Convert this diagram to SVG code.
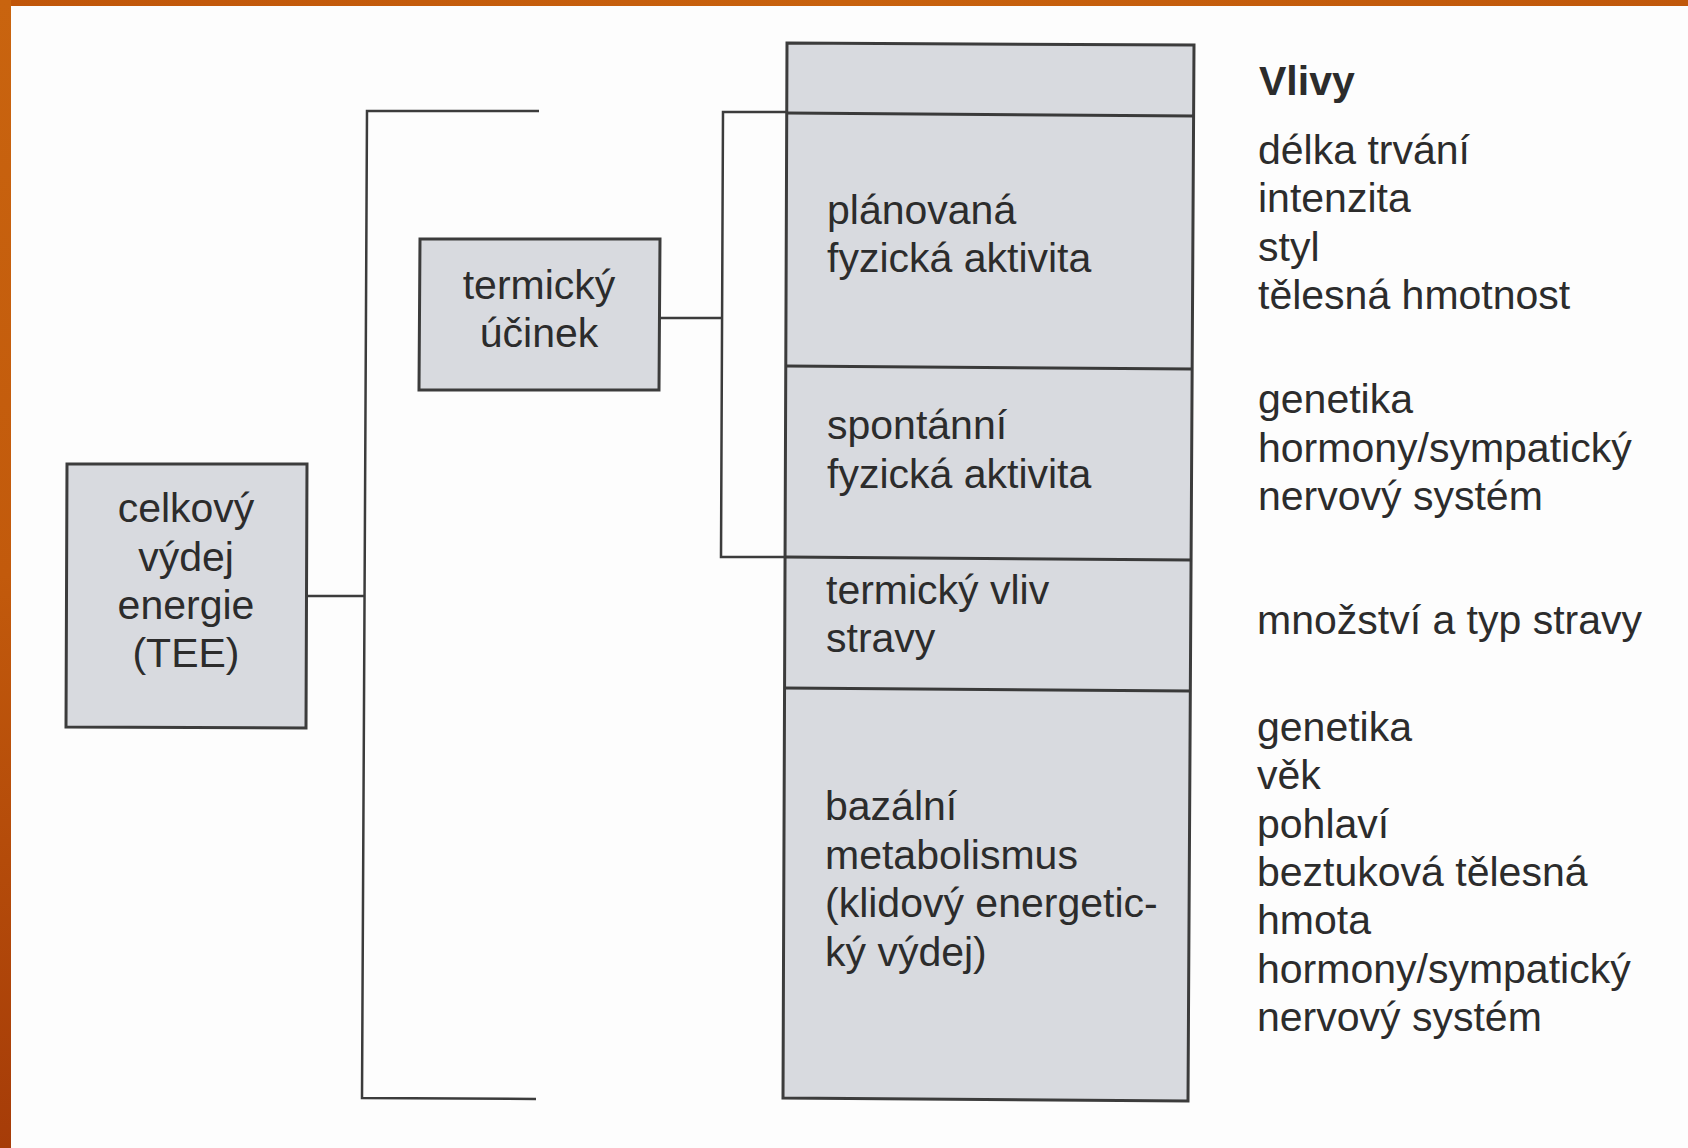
<svg xmlns="http://www.w3.org/2000/svg" width="1688" height="1148" viewBox="0 0 1688 1148">
<defs>
<linearGradient id="og" x1="0" y1="0" x2="0" y2="1">
<stop offset="0" stop-color="#c9640f"/>
<stop offset="0.5" stop-color="#c25a0c"/>
<stop offset="1" stop-color="#a63c08"/>
</linearGradient>
<linearGradient id="ot" x1="0" y1="0" x2="1" y2="0">
<stop offset="0" stop-color="#c0560a"/>
<stop offset="0.5" stop-color="#c8620e"/>
<stop offset="1" stop-color="#c0580b"/>
</linearGradient>
<style>
.box{fill:#d8dadf;stroke:#3c3c3c;stroke-width:3;stroke-linejoin:miter}
.ln{fill:none;stroke:#3c3c3c;stroke-width:2.5}
.dv{fill:none;stroke:#3a3a3a;stroke-width:3}
text{font-family:"Liberation Sans",Arial,sans-serif;font-size:41px;fill:#2c2c2c}
.c{text-anchor:middle}
.b{font-weight:bold}
</style>
</defs>
<rect x="0" y="0" width="1688" height="1148" fill="#fdfdfd"/>
<rect x="0" y="0" width="1688" height="6" fill="url(#ot)"/>
<rect x="0" y="0" width="11" height="1148" fill="url(#og)"/>

<g id="connectors">
<polyline class="ln" points="539,111 367,111 362,1098 536,1099"/>
<line class="ln" x1="307" y1="596" x2="365" y2="596"/>
<polyline class="ln" points="787,112 723,112 721,557 786,557"/>
<line class="ln" x1="659" y1="318" x2="723" y2="318"/>
</g>

<g id="node-tee">
<polygon class="box" points="67,464 307,464 306,728 66,727"/>
<text class="c" x="186" y="522">celkový</text>
<text class="c" x="186" y="571">výdej</text>
<text class="c" x="186" y="619">energie</text>
<text class="c" x="186" y="667">(TEE)</text>
</g>

<g id="node-termicky-ucinek">
<polygon class="box" points="420,239 660,239 659,390 419,390"/>
<text class="c" x="539" y="299">termický</text>
<text class="c" x="539" y="347">účinek</text>
</g>

<g id="node-column">
<polygon class="box" points="787,43 1194,45 1188,1101 783,1098"/>
<line class="dv" x1="787" y1="113" x2="1194" y2="116"/>
<line class="dv" x1="786" y1="366" x2="1193" y2="369"/>
<line class="dv" x1="785" y1="557" x2="1192" y2="560"/>
<line class="dv" x1="784" y1="688" x2="1191" y2="691"/>
</g>

<g id="node-planovana">
<text x="827" y="224">plánovaná</text>
<text x="827" y="272">fyzická aktivita</text>
</g>
<g id="node-spontanni">
<text x="827" y="439">spontánní</text>
<text x="827" y="488">fyzická aktivita</text>
</g>
<g id="node-termicky-vliv">
<text x="826" y="604">termický vliv</text>
<text x="826" y="652">stravy</text>
</g>
<g id="node-bazalni">
<text x="825" y="820">bazální</text>
<text x="825" y="869">metabolismus</text>
<text x="825" y="917">(klidový energetic-</text>
<text x="825" y="966">ký výdej)</text>
</g>

<g id="vlivy">
<text class="b" x="1259" y="95">Vlivy</text>
<text x="1258" y="164">délka trvání</text>
<text x="1258" y="212">intenzita</text>
<text x="1258" y="261">styl</text>
<text x="1258" y="309">tělesná hmotnost</text>
<text x="1258" y="413">genetika</text>
<text x="1258" y="462">hormony/sympatický</text>
<text x="1258" y="510">nervový systém</text>
<text x="1257" y="634">množství a typ stravy</text>
<text x="1257" y="741">genetika</text>
<text x="1257" y="789">věk</text>
<text x="1257" y="838">pohlaví</text>
<text x="1257" y="886">beztuková tělesná</text>
<text x="1257" y="934">hmota</text>
<text x="1257" y="983">hormony/sympatický</text>
<text x="1257" y="1031">nervový systém</text>
</g>
</svg>
